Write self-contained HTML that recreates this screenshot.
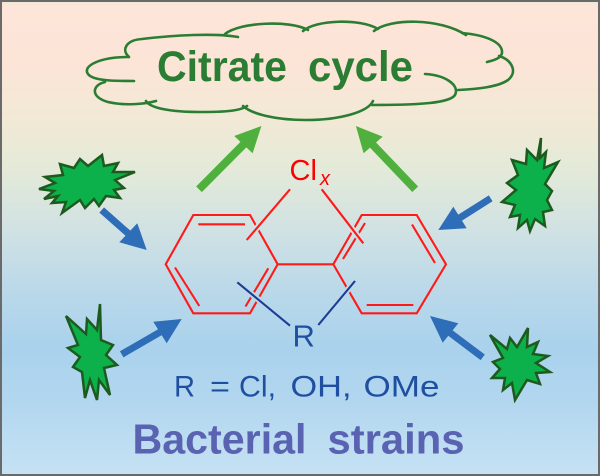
<!DOCTYPE html>
<html><head><meta charset="utf-8"><style>
html,body{margin:0;padding:0;background:#fff;}
svg{display:block;}
</style></head><body>
<svg width="600" height="476" viewBox="0 0 600 476" xmlns="http://www.w3.org/2000/svg">
<defs>
<linearGradient id="bg" gradientUnits="userSpaceOnUse" x1="0" y1="0" x2="0" y2="476">
<stop offset="0" stop-color="#e6ecd8"/>
<stop offset="0.012" stop-color="#fde5d9"/>
<stop offset="0.13" stop-color="#fce4d7"/>
<stop offset="0.25" stop-color="#f2e9d6"/>
<stop offset="0.35" stop-color="#e4ead8"/>
<stop offset="0.48" stop-color="#d1e2e3"/>
<stop offset="0.62" stop-color="#b9d8ea"/>
<stop offset="0.73" stop-color="#aad2ed"/>
<stop offset="0.84" stop-color="#b2d6ef"/>
<stop offset="1" stop-color="#c6e2f4"/>
</linearGradient>
</defs>
<rect x="0" y="0" width="600" height="476" fill="url(#bg)"/>

<!-- cloud -->
<g fill="none" stroke="#2a7d32" stroke-width="2.6" stroke-linecap="round">
<path d="M129,57 C121,50 126,40 142,39 C175,35 215,33 238,37"/>
<path d="M225,34 C240,22 290,20 308,30"/>
<path d="M303,31 C315,20 360,18 378,29"/>
<path d="M374,31 C390,18 440,18 466,35"/>
<path d="M462,33 C485,35 503,42 502,53 C501,58 495,60 487,62"/>
<path d="M499,56 C512,60 518,72 508,80 C498,87 478,89 458,90"/>
<path d="M425,74 C445,75 460,85 455,95 C450,103 420,105 372,105"/>
<path d="M373,101 C368,112 340,120 306,120 C275,120 252,114 243,106"/>
<path d="M146,101 C150,108 170,112 200,112 C225,112 240,111 247,106"/>
<path d="M105,82 C92,85 90,97 108,102 C125,106 145,104 156,101"/>
<path d="M128,57 C100,57 82,66 88,74 C93,81 115,81 134,81"/>
</g>
<g font-family="Liberation Sans, Arial, sans-serif" font-weight="bold" font-size="43" fill="#2a7d32">
<text x="157" y="81" textLength="130" lengthAdjust="spacingAndGlyphs">Citrate</text>
<text x="308" y="81" textLength="105" lengthAdjust="spacingAndGlyphs">cycle</text>
</g>

<!-- green arrows -->
<g fill="#4fb03e" stroke="none">
<line x1="199" y1="189.3" x2="245" y2="143" stroke="#4fb03e" stroke-width="8"/>
<polygon points="261.4,126 234.2,136 252.6,153.3"/>
<line x1="415.2" y1="189.3" x2="372" y2="144" stroke="#4fb03e" stroke-width="8"/>
<polygon points="355.9,126 382.7,136.7 363.6,153.3"/>
</g>

<!-- blue arrows -->
<g fill="#2e6db8">
<line x1="101.7" y1="210" x2="130" y2="235" stroke="#2e6db8" stroke-width="7"/>
<polygon points="146.7,250 119.3,242.3 137.3,223.3"/>
<line x1="490.7" y1="198.3" x2="458" y2="219" stroke="#2e6db8" stroke-width="7"/>
<polygon points="438.3,230 453.3,206.7 466.7,228.3"/>
<line x1="121.7" y1="354.3" x2="162" y2="331" stroke="#2e6db8" stroke-width="7"/>
<polygon points="181.7,319 153.3,321.7 166.7,343.3"/>
<line x1="482.7" y1="357.3" x2="449" y2="332" stroke="#2e6db8" stroke-width="7"/>
<polygon points="430,316 458.3,323.3 442.7,342.7"/>
</g>

<!-- starbursts -->
<g fill="#0db14b" stroke="#1d5a1d" stroke-width="2.5" stroke-linejoin="miter">
<polygon points="39,189 55,183 45,177 63,175 60,164 74,168 80,159 88,166 102,155 104,166 118,163 113,172 135,172 115,180 124,188 114,190 120,198 106,196 99,206 94,199 85,208 80,200 62,213 66,202 52,203 58,196 44,199 54,191"/>
<polygon points="541,138 537,160 527,150 526,164 512,160 518,175 507,183 516,190 502,202 515,205 510,217 520,215 518,228 527,220 530,231 535,219 545,226 543,212 552,210 547,200 552,191 545,184 558,162 544,168 546,152 540,158"/>
<polygon points="100,304 97,330 87,319 86,334 66,316 78,345 68,348 80,357 73,367 82,372 85,398 90,380 97,400 99,380 110,395 104,368 117,365 106,355 113,345 101,340"/>
<polygon points="490,335 507,349 510,338 517,347 528,328 527,347 538,342 533,354 548,356 536,363 550,372 536,373 540,384 527,380 515,400 512,383 503,390 505,378 492,378 500,369 493,362 503,358"/>
</g>

<!-- molecule bonds -->
<g fill="none" stroke="#ff1a1a" stroke-width="2.1" stroke-linejoin="miter" stroke-linecap="butt">
<polygon points="165.7,264.3 193.3,215 250,215 277.7,264.3 250,313.3 193.3,313.3"/>
<polygon points="333.3,264.3 361.7,215 416.7,215 446,264.3 416.7,313.3 361.7,313.3"/>
<line x1="277.7" y1="264.3" x2="333.3" y2="264.3"/>
<line x1="198.3" y1="224.3" x2="245" y2="224.3"/>
<line x1="175" y1="267.5" x2="199.3" y2="306"/>
<line x1="268.3" y1="268.3" x2="245.5" y2="306.5"/>
<line x1="343" y1="259" x2="365" y2="223"/>
<line x1="412" y1="224.5" x2="435" y2="263"/>
<line x1="366.7" y1="305" x2="413.3" y2="305"/>
</g>
<!-- halos for crossing gaps -->
<g fill="none" stroke="url(#bg)" stroke-width="6">
<line x1="249" y1="237.3" x2="288" y2="191.6"/>
<line x1="324" y1="192.3" x2="361" y2="240.3"/>
<line x1="240" y1="284.5" x2="287" y2="323.2"/>
<line x1="352.5" y1="284" x2="321" y2="321.8"/>
</g>
<g fill="none" stroke="#ff1a1a" stroke-width="2.1">
<line x1="246.7" y1="240" x2="290" y2="189.3"/>
<line x1="321.7" y1="189.3" x2="363.3" y2="243.3"/>
</g>
<g fill="none" stroke="#1c3c94" stroke-width="2.1">
<line x1="237.3" y1="282.3" x2="290" y2="325.7"/>
<line x1="355" y1="281" x2="318.3" y2="325"/>
</g>

<!-- labels -->
<g font-family="Liberation Sans, Arial, sans-serif" fill="#ff0000">
<text x="289.5" y="180" font-size="29">Cl</text>
<text x="320" y="185" font-size="20" font-style="italic">x</text>
</g>
<text x="292.5" y="346.7" font-family="Liberation Sans, Arial, sans-serif" font-size="31" fill="#1f4fa0">R</text>

<g font-family="Liberation Sans, Arial, sans-serif" font-size="30" fill="#1f4fa0">
<text x="174" y="396.7" textLength="21" lengthAdjust="spacingAndGlyphs">R</text>
<text x="210" y="396.7" textLength="20" lengthAdjust="spacingAndGlyphs">=</text>
<text x="239" y="396.7" textLength="37" lengthAdjust="spacingAndGlyphs">Cl,</text>
<text x="290.5" y="396.7" textLength="61" lengthAdjust="spacingAndGlyphs">OH,</text>
<text x="363.5" y="396.7" textLength="76" lengthAdjust="spacingAndGlyphs">OMe</text>
</g>

<g font-family="Liberation Sans, Arial, sans-serif" font-weight="bold" font-size="42" fill="#5a62b2">
<text x="132.5" y="453.3" textLength="174" lengthAdjust="spacingAndGlyphs">Bacterial</text>
<text x="327.5" y="453.3" textLength="137" lengthAdjust="spacingAndGlyphs">strains</text>
</g>

<rect x="1" y="1" width="598" height="474" fill="none" stroke="#6a6a6a" stroke-width="2"/>
</svg>
</body></html>
